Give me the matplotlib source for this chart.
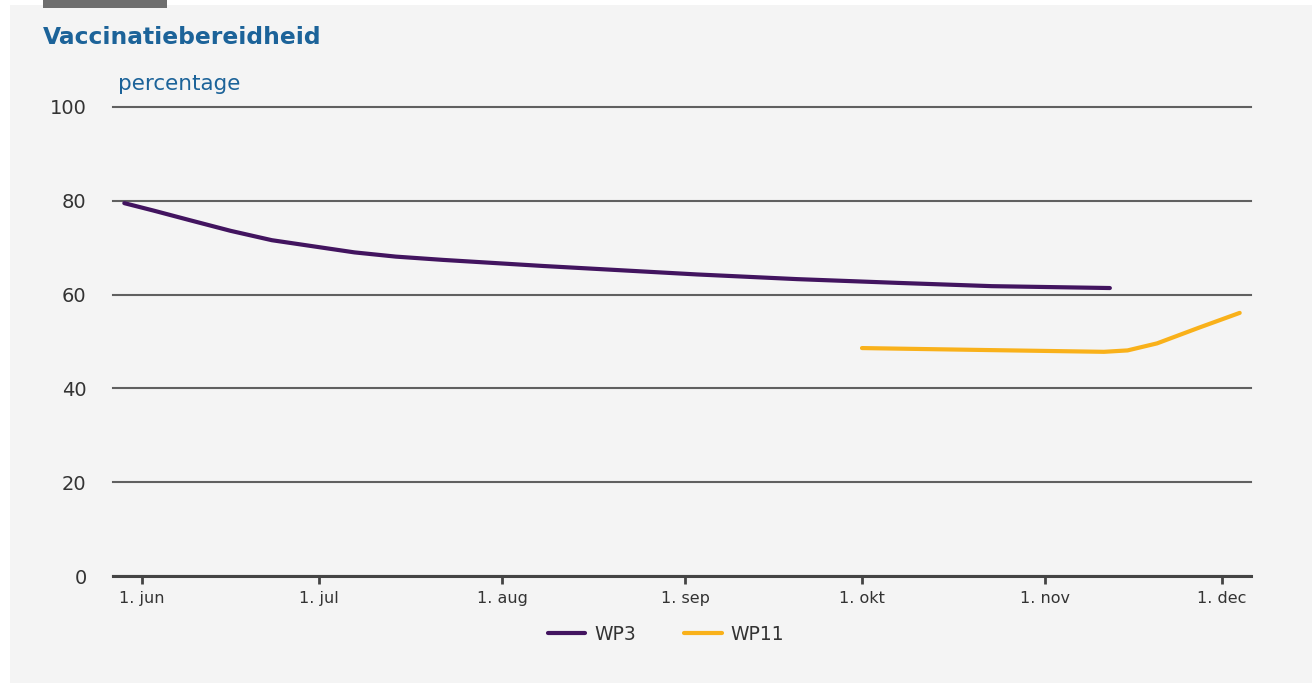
import matplotlib
matplotlib.use('Agg')

import matplotlib.pyplot as plt
import numpy as np
from matplotlib.patches import Rectangle

# --- data ---
wp3_dates = ['2020-05-29', '2020-06-03', '2020-06-09', '2020-06-16', '2020-06-23',
             '2020-06-30', '2020-07-07', '2020-07-14', '2020-07-22', '2020-08-08',
             '2020-09-03', '2020-09-20', '2020-10-07', '2020-10-23', '2020-11-12']
wp3_values = [79.5, 77.9, 75.9, 73.6, 71.6, 70.3, 69.0, 68.1, 67.4, 66.1,
              64.3, 63.3, 62.5, 61.8, 61.4]

wp11_dates = ['2020-10-01', '2020-10-21', '2020-11-11', '2020-11-15', '2020-11-20',
              '2020-11-27', '2020-12-04']
wp11_values = [48.6, 48.2, 47.8, 48.1, 49.6, 52.9, 56.1]

tick_dates = ['2020-06-01', '2020-07-01', '2020-08-01', '2020-09-01',
              '2020-10-01', '2020-11-01', '2020-12-01']
tick_labels = ['1. jun', '1. jul', '1. aug', '1. sep', '1. okt', '1. nov', '1. dec']

y_ticks = [0, 20, 40, 60, 80, 100]

TITLE = 'Vaccinatiebereidheid'
Y_UNIT = 'percentage'

PURPLE = '#42145f'
YELLOW = '#f9b11a'
BLUE = '#1c6399'
BG = '#f4f4f4'

fig = plt.figure(figsize=(13.12, 6.83), dpi=100)
fig.patch.set_facecolor('white')

# light panel behind the chart, plus the small dark tab top-left
fig.patches.append(Rectangle((10 / 1312, 0), 1 - 10 / 1312, 1 - 5 / 683,
                             transform=fig.transFigure, facecolor=BG,
                             edgecolor='none', zorder=-10))
fig.patches.append(Rectangle((43 / 1312, 1 - 8 / 683), 124 / 1312, 8 / 683,
                             transform=fig.transFigure, facecolor='#6e6e6e',
                             edgecolor='none', zorder=-9))

ax = fig.add_axes([113 / 1312, 1 - 576 / 683, 1138 / 1312, 469 / 683])
ax.set_facecolor(BG)

x3 = np.array(wp3_dates, dtype='datetime64[D]')
x11 = np.array(wp11_dates, dtype='datetime64[D]')
ax.plot(x3, wp3_values, color=PURPLE, lw=3.0, solid_capstyle='round',
        solid_joinstyle='round', label='WP3', zorder=3)
ax.plot(x11, wp11_values, color=YELLOW, lw=3.0, solid_capstyle='round',
        solid_joinstyle='round', label='WP11', zorder=3)

ax.set_ylim(0, 100)
ax.set_xlim(np.datetime64('2020-05-27T02'), np.datetime64('2020-12-05T22'))

ax.set_yticks(y_ticks)
ax.set_yticklabels([str(v) for v in y_ticks], fontsize=14, color='#333333')
ax.tick_params(axis='y', length=0, pad=19)
ax.yaxis.grid(True, color='#606060', lw=1.5)
ax.set_axisbelow(True)
# keep the top (100) gridline at full width
for gl in ax.get_ygridlines():
    gl.set_clip_on(False)

ax.set_xticks(np.array(tick_dates, dtype='datetime64[D]'))
ax.set_xticklabels(tick_labels, fontsize=11.5, color='#333333')
ax.tick_params(axis='x', length=6, width=2, color='#444444', pad=5)

for side in ['top', 'right', 'left']:
    ax.spines[side].set_visible(False)
ax.spines['bottom'].set_color('#444444')
ax.spines['bottom'].set_linewidth(2.2)

fig.text(43 / 1312, 1 - 37 / 683, TITLE, fontsize=16.8, fontweight='bold',
         color=BLUE, va='center', ha='left')
fig.text(118 / 1312, 1 - 84 / 683, Y_UNIT, fontsize=15.5, color=BLUE,
         va='center', ha='left')

leg = fig.legend(loc='center', bbox_to_anchor=(666 / 1312, 1 - 634 / 683),
                 ncol=2, frameon=False, fontsize=13.5, handlelength=2.0,
                 columnspacing=2.6, handletextpad=0.45)
for t in leg.get_texts():
    t.set_color('#333333')

fig.savefig('out.png', dpi=100, facecolor=fig.get_facecolor())
